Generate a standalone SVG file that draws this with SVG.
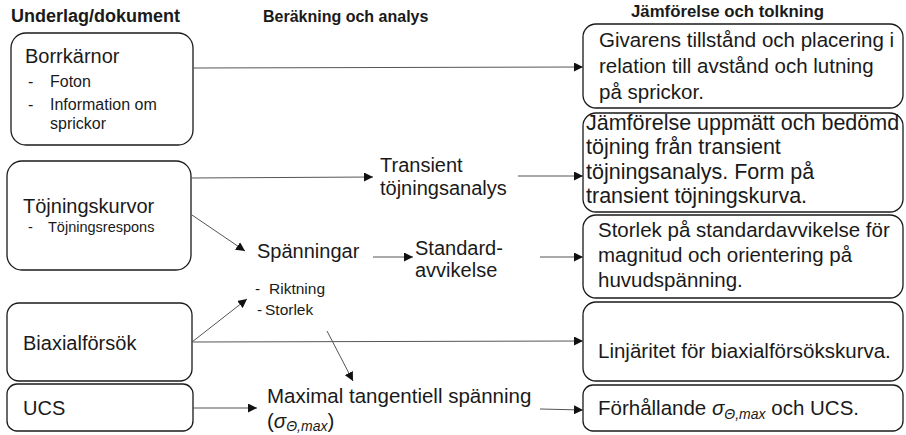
<svg xmlns="http://www.w3.org/2000/svg" width="906" height="435" viewBox="0 0 906 435">
<style>
text{font-family:"Liberation Sans",Arial,sans-serif;fill:#1a1a1a}
.hdr{font-weight:bold}
.box{fill:#fff;stroke:#1a1a1a;stroke-width:1.3}
.main{font-size:20px}
.sub{font-size:15.5px}
.rt{font-size:20.5px}
.con line{stroke:#555;stroke-width:1}
.it{font-style:italic}
</style>
<defs>
<marker id="ah" markerUnits="userSpaceOnUse" markerWidth="10" markerHeight="9" refX="9" refY="4.5" orient="auto">
<path d="M0,0 L9,4.5 L0,9 z" fill="#111"/>
</marker>
</defs>
<rect width="906" height="435" fill="#fff"/>

<g id="headers">
<text class="hdr" x="11" y="22" font-size="18">Underlag/dokument</text>
<text class="hdr" x="263" y="22" font-size="16">Beräkning och analys</text>
<text class="hdr" x="631" y="17" font-size="16.8">Jämförelse och tolkning</text>
</g>

<g id="borrkarnor">
<rect class="box" x="11" y="33" width="182" height="112" rx="15"/>
<text class="main" x="25" y="63">Borrkärnor</text>
<text font-size="16" x="28" y="87">-</text>
<text font-size="16" x="50" y="87">Foton</text>
<text font-size="16" x="28" y="110">-</text>
<text font-size="16" x="50" y="110">Information om</text>
<text font-size="16" x="50" y="129">sprickor</text>
</g>

<g id="tojningskurvor">
<rect class="box" x="7" y="161" width="184" height="109" rx="15"/>
<text class="main" x="23" y="213">Töjningskurvor</text>
<text font-size="14.5" x="28" y="232">-</text>
<text font-size="14.5" x="48" y="232">Töjningsrespons</text>
</g>

<g id="biaxialforsok">
<rect class="box" x="7" y="303" width="185" height="78" rx="12"/>
<text class="main" x="23" y="350">Biaxialförsök</text>
</g>

<g id="ucs">
<rect class="box" x="7" y="384" width="186" height="47" rx="10"/>
<text class="main" x="23" y="415">UCS</text>
</g>

<g id="transient">
<text class="main" x="380" y="172">Transient</text>
<text class="main" x="380" y="195">töjningsanalys</text>
</g>

<g id="spanningar">
<text class="main" x="257" y="258">Spänningar</text>
<text class="sub" x="255" y="294">-</text>
<text class="sub" x="269" y="294">Riktning</text>
<text class="sub" x="257" y="315">-</text>
<text class="sub" x="265" y="315">Storlek</text>
</g>

<g id="standardavvikelse">
<text class="main" x="415" y="255">Standard-</text>
<text class="main" x="415" y="277">avvikelse</text>
</g>

<g id="maximal">
<text font-size="20.5" x="267" y="403">Maximal tangentiell spänning</text>
<text font-size="20.5" x="267" y="428">(<tspan class="it">σ</tspan><tspan class="it" font-size="14" dy="3">Θ,max</tspan><tspan dy="-3">)</tspan></text>
</g>

<g id="givarens">
<rect class="box" x="583" y="24" width="320" height="84" rx="13"/>
<text class="rt" x="599" y="47">Givarens tillstånd och placering i</text>
<text class="rt" x="599" y="73">relation till avstånd och lutning</text>
<text class="rt" x="599" y="99">på sprickor.</text>
</g>

<g id="jamforelse">
<rect class="box" x="583" y="113" width="320" height="99" rx="13"/>
<text font-size="21.5" x="586" y="130">Jämförelse uppmätt och bedömd</text>
<text font-size="21.5" x="586" y="154">töjning från transient</text>
<text font-size="21.5" x="586" y="178.5">töjningsanalys. Form på</text>
<text font-size="21.5" x="586" y="203">transient töjningskurva.</text>
</g>

<g id="storlek">
<rect class="box" x="583" y="215" width="320" height="83" rx="13"/>
<text class="rt" x="598" y="237">Storlek på standardavvikelse för</text>
<text class="rt" x="598" y="262">magnitud och orientering på</text>
<text class="rt" x="598" y="287">huvudspänning.</text>
</g>

<g id="linjaritet">
<rect class="box" x="583" y="302" width="320" height="79" rx="13"/>
<text class="rt" x="598" y="358">Linjäritet för biaxialförsökskurva.</text>
</g>

<g id="forhallande">
<rect class="box" x="583" y="385" width="320" height="46" rx="10"/>
<text class="rt" x="598" y="415">Förhållande <tspan class="it">σ</tspan><tspan class="it" font-size="14" dy="4">Θ,max</tspan><tspan dy="-4"> och UCS.</tspan></text>
</g>

<g id="connectors" class="con">
<line x1="193" y1="68" x2="583" y2="67" marker-end="url(#ah)"/>
<line x1="191" y1="178" x2="373" y2="177" marker-end="url(#ah)"/>
<line x1="518" y1="176" x2="583" y2="176" marker-end="url(#ah)"/>
<line x1="192" y1="215" x2="245" y2="251" marker-end="url(#ah)"/>
<line x1="192" y1="342" x2="247" y2="299" marker-end="url(#ah)"/>
<line x1="193" y1="342" x2="583" y2="341" marker-end="url(#ah)"/>
<line x1="327" y1="331" x2="353" y2="381" marker-end="url(#ah)"/>
<line x1="373" y1="257" x2="413" y2="257" marker-end="url(#ah)"/>
<line x1="540" y1="257" x2="583" y2="257" marker-end="url(#ah)"/>
<line x1="193" y1="408" x2="257" y2="408" marker-end="url(#ah)"/>
<line x1="540" y1="409" x2="583" y2="410" marker-end="url(#ah)"/>
</g>
</svg>
